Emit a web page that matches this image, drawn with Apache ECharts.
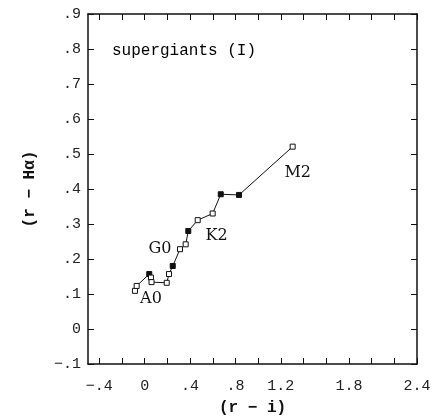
<!DOCTYPE html>
<html>
<head>
<meta charset="utf-8">
<script src="https://cdn.jsdelivr.net/npm/echarts@6/dist/echarts.min.js"></script>
<style>
  html, body { margin: 0; padding: 0; background: #fff; }
  #chart { width: 432px; height: 417px; }
</style>
</head>
<body>
<div id="chart"></div>
<script>
// Supergiant sequence in the (r - i) vs (r - Halpha) colour plane
const rMinusI = [-0.086, -0.071, 0.040, 0.055, 0.060, 0.194, 0.214, 0.247,
                 0.311, 0.361, 0.384, 0.467, 0.599, 0.670, 0.831, 1.304];
const rMinusHa = [0.109, 0.123, 0.157, 0.147, 0.134, 0.132, 0.157, 0.180,
                  0.228, 0.242, 0.280, 0.311, 0.330, 0.385, 0.383, 0.521];
const spectralTypes = ['A0', '', '', '', '', '', '', '',
                       'G0', '', '', '', 'K2', '', '', 'M2'];

// Axis ticks and labelled values
const xTicks = [-0.4, -0.2, 0, 0.2, 0.4, 0.6, 0.8, 1.0, 1.2, 1.4, 1.6, 1.8, 2.0, 2.2, 2.4];
const xTickLabels = [-0.4, 0, 0.4, 0.8, 1.2, 1.8, 2.4];
const yTicks = [-0.1, 0, 0.1, 0.2, 0.3, 0.4, 0.5, 0.6, 0.7, 0.8, 0.9];
const yTickLabels = [-0.1, 0, 0.1, 0.2, 0.3, 0.4, 0.5, 0.6, 0.7, 0.8, 0.9];

const panelTitle = 'supergiants (I)';
const xTitle = '(r \u2212 i)';
const yTitle = '(r \u2212 H\u03b1)';

// Marker style: some points are drawn as solid squares
const solidMarks = [2, 7, 10, 13, 14];
// Where each spectral-type tag sits relative to its point
const tagOffset = { A0: [16, 8], G0: [-20, 0], K2: [4, 22], M2: [5, 26] };

const MONO = '"Liberation Mono", "DejaVu Sans Mono", monospace';
const SERIF = '"DejaVu Serif", "Liberation Serif", serif';
const INK = '#111';

function fmtTick(v) {
  if (Math.abs(v) < 1e-9) return '0';
  let s = (Math.round(v * 10) / 10).toString();
  s = s.replace(/^0\./, '.').replace(/^-0\./, '\u2212.');
  return s;
}

const chart = echarts.init(document.getElementById('chart'), null, { renderer: 'canvas' });

const points = rMinusI.map((x, i) => {
  const tag = spectralTypes[i];
  const item = {
    value: [x, rMinusHa[i]],
    itemStyle: solidMarks.includes(i)
      ? { color: INK, borderColor: INK, borderWidth: 1 }
      : { color: '#fff', borderColor: INK, borderWidth: 1 }
  };
  if (tag) {
    item.label = {
      show: true,
      formatter: tag,
      position: 'inside',
      offset: tagOffset[tag],
      color: INK,
      fontFamily: SERIF,
      fontSize: 16
    };
  }
  return item;
});

const axisLineStyle = { show: true, onZero: false, lineStyle: { color: INK, width: 1.5 } };

const option = {
  animation: false,
  backgroundColor: '#fff',
  grid: { left: 88, top: 14, width: 329, height: 350, containLabel: false, outerBoundsMode: 'none' },
  xAxis: [
    {
      type: 'value', min: -0.5, max: 2.4, position: 'bottom',
      axisLine: axisLineStyle,
      axisTick: { show: true, inside: true, length: 6, customValues: xTicks,
                  lineStyle: { color: INK, width: 1 } },
      axisLabel: { show: true, customValues: xTickLabels, formatter: fmtTick,
                   margin: 15, color: '#222', fontFamily: MONO, fontSize: 15 },
      splitLine: { show: false },
      name: xTitle, nameLocation: 'middle', nameGap: 36,
      nameTextStyle: { color: INK, fontFamily: MONO, fontSize: 16, fontWeight: 'bold' }
    },
    {
      type: 'value', min: -0.5, max: 2.4, position: 'top',
      axisLine: axisLineStyle,
      axisTick: { show: true, inside: true, length: 6, customValues: xTicks,
                  lineStyle: { color: INK, width: 1 } },
      axisLabel: { show: false },
      splitLine: { show: false }
    }
  ],
  yAxis: [
    {
      type: 'value', min: -0.1, max: 0.9, position: 'left',
      axisLine: axisLineStyle,
      axisTick: { show: true, inside: true, length: 6, customValues: yTicks,
                  lineStyle: { color: INK, width: 1 } },
      axisLabel: { show: true, customValues: yTickLabels, formatter: fmtTick,
                   margin: 7, color: '#222', fontFamily: MONO, fontSize: 15 },
      splitLine: { show: false },
      name: yTitle, nameLocation: 'middle', nameGap: 50, nameRotate: 90,
      nameTextStyle: { color: INK, fontFamily: MONO, fontSize: 16, fontWeight: 'bold' }
    },
    {
      type: 'value', min: -0.1, max: 0.9, position: 'right',
      axisLine: axisLineStyle,
      axisTick: { show: true, inside: true, length: 6, customValues: yTicks,
                  lineStyle: { color: INK, width: 1 } },
      axisLabel: { show: false },
      splitLine: { show: false }
    }
  ],
  graphic: [
    {
      type: 'text', left: 112, top: 43,
      style: { text: panelTitle, fill: '#000', font: '16px ' + MONO }
    }
  ],
  series: [
    {
      type: 'line',
      data: points,
      symbol: 'rect',
      symbolSize: 5,
      showAllSymbol: true,
      lineStyle: { color: INK, width: 1 },
      itemStyle: { color: '#fff', borderColor: INK },
      z: 3
    }
  ]
};

chart.setOption(option);
</script>
</body>
</html>
